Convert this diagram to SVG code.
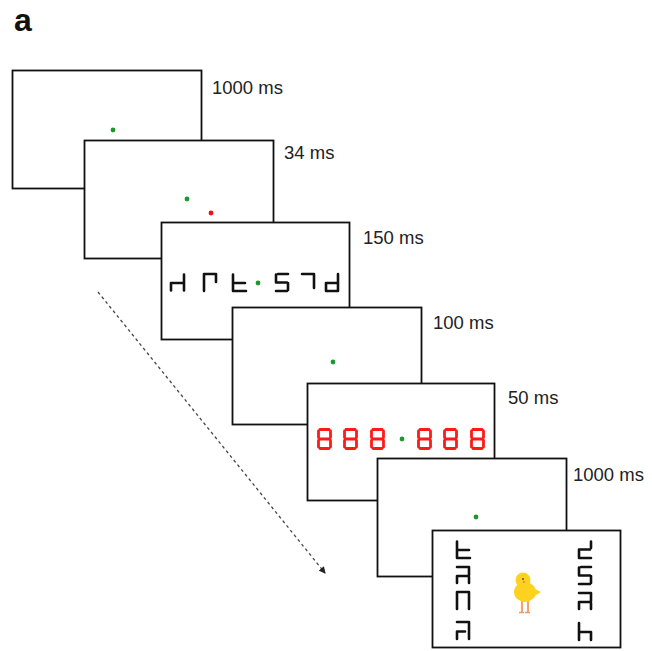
<svg xmlns="http://www.w3.org/2000/svg" width="652" height="651" viewBox="0 0 652 651">
  <style>
    .frame { fill: #ffffff; stroke: #111111; stroke-width: 1.8; }
    .lbl { font-family: "Liberation Sans", Arial, sans-serif; font-size: 18.5px; fill: #222222; }
    .title { font-family: "Liberation Sans", Arial, sans-serif; font-size: 32px; font-weight: bold; fill: #111111; }
    .fix { fill: #1a9a2a; }
    .cue { fill: #ee1111; }
    .seg { fill: none; stroke: #111111; stroke-width: 2.6; stroke-linecap: round; stroke-linejoin: round; }
    .mask { fill: none; stroke: #ff1a1a; stroke-width: 2.8; stroke-linecap: round; }
    .flow { stroke: #444444; stroke-width: 1.3; stroke-dasharray: 3 3; fill: none; }
  </style>
  <defs>
    <marker id="arrowHead" markerWidth="8" markerHeight="8" refX="6" refY="4" orient="auto" markerUnits="userSpaceOnUse">
      <path d="M0,0.5 L7,4 L0,7.5 Z" fill="#222222"/>
    </marker>
    <!-- segment glyphs in a 14 x 19 box -->
    <path id="gA" class="seg" d="M14,1.5 V17.5 M1,10 H14 M1,10 V17.5"/>
    <path id="gB" class="seg" d="M1,1 H13 M1,1 V18 M13,1 V9"/>
    <path id="gC" class="seg" d="M1,1.5 V18 M1,10 H13 M1,18 H14"/>
    <path id="gD" class="seg" d="M3,1 H13 M1,1.5 V9 M1,9.5 H12 M13,10 V17 M1,18 H12"/>
    <path id="gE" class="seg" d="M1,1 H13 M13,1 V15"/>
    <path id="gF" class="seg" d="M13,1 V18 M1,10 H13 M1,10 V18 M1,18 H13"/>
    <path id="gG" class="seg" d="M13,1.5 V8 M1,9.5 H12 M1,10 V17 M1,18 H13"/>
    <path id="gH" class="seg" d="M1,1 H13 M13,1 V9 M1,10 H13 M1,10 V17 M13,11 V17"/>
    <path id="gI" class="seg" d="M1,1 H13 M1,1 V18 M13,1 V18"/>
    <path id="gJ" class="seg" d="M1,1 H13 M13,1 V18 M1,11 V18 M1,10.5 H9"/>
    <path id="gK" class="seg" d="M1,1 V18 M1,10 H13 M13,10 V18"/>
    <!-- hollow seven-segment eight, 15 x 22 box -->
    <path id="eight" class="mask" d="M3,1.5 H12 M1.5,3 V9.5 M13.5,3 V9.5 M3,11 H12 M1.5,12.5 V19 M13.5,12.5 V19 M3,20.5 H12"/>
  </defs>

  <text class="title" x="14" y="31">a</text>

  <!-- frame 1: fixation -->
  <g id="frame1">
    <rect class="frame" x="12.5" y="70.5" width="189" height="118"/>
    <circle class="fix" cx="113" cy="130" r="2.4"/>
    <text class="lbl" x="212" y="94">1000 ms</text>
  </g>

  <!-- frame 2: cue -->
  <g id="frame2">
    <rect class="frame" x="84.5" y="140.5" width="189" height="118"/>
    <circle class="fix" cx="187" cy="199" r="2.4"/>
    <circle class="cue" cx="211" cy="213" r="2.4"/>
    <text class="lbl" x="284" y="159">34 ms</text>
  </g>

  <!-- frame 3: symbol array -->
  <g id="frame3">
    <rect class="frame" x="161.5" y="222.5" width="188" height="117"/>
    <use href="#gA" x="170" y="273"/>
    <use href="#gB" x="203" y="273"/>
    <use href="#gC" x="232" y="273"/>
    <circle class="fix" cx="258" cy="283" r="2.4"/>
    <use href="#gD" x="275" y="273"/>
    <use href="#gE" x="301" y="273"/>
    <use href="#gF" x="325" y="273"/>
    <text class="lbl" x="363" y="244">150 ms</text>
  </g>

  <!-- frame 4: blank interval -->
  <g id="frame4">
    <rect class="frame" x="232.5" y="307.5" width="189" height="117"/>
    <circle class="fix" cx="333" cy="362" r="2.4"/>
    <text class="lbl" x="433" y="329">100 ms</text>
  </g>

  <!-- frame 5: mask -->
  <g id="frame5">
    <rect class="frame" x="307.5" y="383.5" width="187" height="117"/>
    <use href="#eight" x="317" y="428"/>
    <use href="#eight" x="343" y="428"/>
    <use href="#eight" x="370" y="428"/>
    <circle class="fix" cx="402" cy="439" r="2.4"/>
    <use href="#eight" x="417" y="428"/>
    <use href="#eight" x="443" y="428"/>
    <use href="#eight" x="470" y="428"/>
    <text class="lbl" x="508" y="404">50 ms</text>
  </g>

  <!-- frame 6: delay -->
  <g id="frame6">
    <rect class="frame" x="377.5" y="458.5" width="189" height="118"/>
    <circle class="fix" cx="476" cy="517" r="2.4"/>
    <text class="lbl" x="573" y="481">1000 ms</text>
  </g>

  <!-- frame 7: response display -->
  <g id="frame7">
    <rect class="frame" x="432.5" y="530.5" width="188" height="117"/>
    <use href="#gC" x="456" y="540"/>
    <use href="#gH" x="456" y="566"/>
    <use href="#gI" x="456" y="591"/>
    <use href="#gJ" x="456" y="621"/>
    <use href="#gG" x="578" y="540"/>
    <use href="#gD" x="578" y="566"/>
    <use href="#gH" x="578" y="592"/>
    <use href="#gK" x="578" y="622"/>
    <!-- chick -->
    <g id="chick">
      <line x1="522" y1="598" x2="522" y2="612" stroke="#f39a5b" stroke-width="1.8"/>
      <line x1="528" y1="598" x2="528" y2="612" stroke="#f39a5b" stroke-width="1.8"/>
      <line x1="519" y1="612.5" x2="524" y2="612.5" stroke="#f39a5b" stroke-width="1.5"/>
      <line x1="525" y1="612.5" x2="530" y2="612.5" stroke="#f39a5b" stroke-width="1.5"/>
      <ellipse cx="525" cy="592" rx="11" ry="10" fill="#ffd21f"/>
      <path d="M533,588 L541,592 L533,597 Z" fill="#ffd21f"/>
      <circle cx="523" cy="580" r="7.5" fill="#ffd21f"/>
      <circle cx="523" cy="579" r="1" fill="#555555"/>
      <path d="M523,581 L526,582 L523,583 Z" fill="#f07a2a"/>
    </g>
  </g>

  <!-- time flow -->
  <g id="connectors">
    <line class="flow" x1="98" y1="292" x2="325" y2="573" marker-end="url(#arrowHead)"/>
  </g>
</svg>
